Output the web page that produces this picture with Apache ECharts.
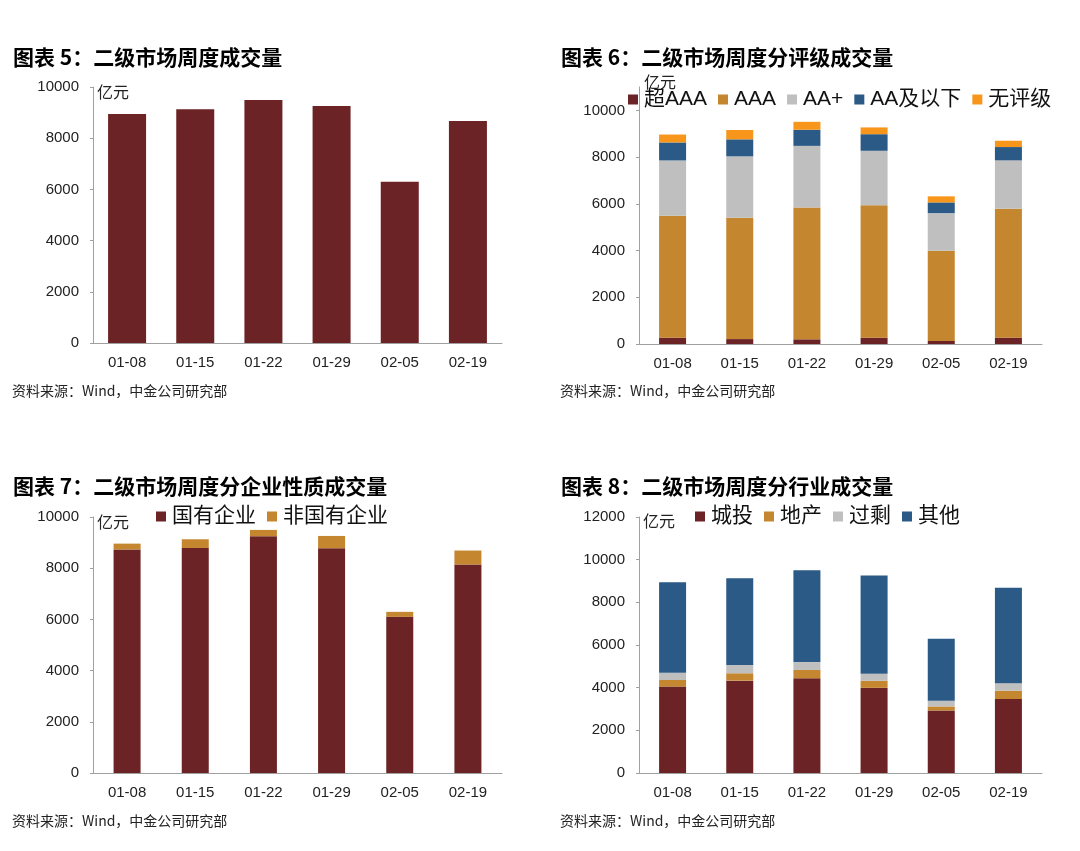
<!DOCTYPE html>
<html><head><meta charset="utf-8">
<script src="https://cdn.jsdelivr.net/npm/echarts@6/dist/echarts.min.js"></script>
<style>html,body{margin:0;padding:0;background:#fff}#c{width:1080px;height:851px}</style>
</head><body><div id="c"></div>
<script>
// ---- data ----
const categories = ['01-08','01-15','01-22','01-29','02-05','02-19'];
// 图表5 总成交量
const totalVolume = [8950, 9130, 9490, 9260, 6295, 8675];
// 图表6 分评级
const superAAA = [270, 210, 200, 270, 130, 270];
const ratingAAA = [5216, 5190, 5640, 5670, 3860, 5520];
const ratingAAplus = [2370, 2630, 2640, 2330, 1610, 2070];
const ratingAAbelow = [770, 730, 690, 710, 460, 570];
const noRating = [340, 400, 340, 290, 260, 270];
// 图表7 分企业性质
const soe = [8730, 8790, 9250, 8780, 6100, 8145];
const nonSoe = [230, 340, 245, 480, 195, 545];
// 图表8 分行业
const chengtou = [4050, 4330, 4440, 3990, 2930, 3470];
const dichan = [310, 345, 390, 330, 190, 390];
const guosheng = [340, 390, 370, 330, 270, 350];
const qita = [4240, 4065, 4300, 4610, 2900, 4470];

const C = {maroon:'#6B2325', aaa:'#C4862F', grey:'#BFBFBF', blue:'#2A5A85', orange:'#F7961A'};
const AX = '#A0A0A0';
const CJK = '"Noto Sans CJK SC", sans-serif';
const MIX = '"Liberation Sans", "Noto Sans CJK SC", sans-serif';
const NUM = '"Liberation Sans", Arial, sans-serif';

const chart = echarts.init(document.getElementById('c'), null, {renderer:'canvas'});

function xAx(g){return {type:'category', gridIndex:g, data:categories,
  axisLine:{lineStyle:{color:AX}}, axisTick:{inside:true,length:4,lineStyle:{color:AX}},
  axisLabel:{color:'#222', fontSize:15, fontFamily:NUM, margin:12}};}
function yAx(g,max){return {type:'value', gridIndex:g, min:0, max:max, interval:2000,
  axisLine:{show:true,lineStyle:{color:AX}}, axisTick:{show:true,length:3,lineStyle:{color:AX}},
  splitLine:{show:false},
  axisLabel:{color:'#222', fontSize:15, fontFamily:NUM, margin:14, showMaxLabel: max%2000===0,
    formatter:v=> v>10000 && max===11000 ? '' : String(v)}};}

function bar(name,data,g,color,w,stack){return {name:name,type:'bar',xAxisIndex:g,yAxisIndex:g,
  data:data,stack:stack,barWidth:w,itemStyle:{color:color},emphasis:{disabled:true}};}

const titleStyle = {fontSize:21, fontWeight:'bold', fontFamily:CJK, color:'#000'};
const srcStyle = {fontSize:14, fontWeight:'normal', fontFamily:CJK, color:'#222'};
const legendBase = {icon:'rect', itemWidth:10, itemHeight:10, itemGap:11, selectedMode:false,
  textStyle:{fontSize:21, fontFamily:MIX, color:'#111', padding:[0,0,0,1]}};

const option = {
  animation:false,
  title:[
    {text:'图表 5：二级市场周度成交量', left:8, top:42, textStyle:titleStyle},
    {text:'图表 6：二级市场周度分评级成交量', left:556, top:42, textStyle:titleStyle},
    {text:'图表 7：二级市场周度分企业性质成交量', left:8, top:471, textStyle:titleStyle},
    {text:'图表 8：二级市场周度分行业成交量', left:556, top:471, textStyle:titleStyle},
    {text:'资料来源：Wind，中金公司研究部', left:7, top:379, textStyle:srcStyle},
    {text:'资料来源：Wind，中金公司研究部', left:555, top:379, textStyle:srcStyle},
    {text:'资料来源：Wind，中金公司研究部', left:7, top:809, textStyle:srcStyle},
    {text:'资料来源：Wind，中金公司研究部', left:555, top:809, textStyle:srcStyle}
  ],
  legend:[
    Object.assign({}, legendBase, {left:623, top:84, data:['超AAA','AAA','AA+','AA及以下','无评级']}),
    Object.assign({}, legendBase, {left:151, top:501, data:['国有企业','非国有企业']}),
    Object.assign({}, legendBase, {left:690, top:501, data:['城投','地产','过剩','其他']})
  ],
  grid:[
    {left:93, top:87, width:409, height:256},
    {left:639, top:87, width:403, height:257},
    {left:93, top:517, width:409, height:256},
    {left:639, top:517, width:403, height:256}
  ],
  xAxis:[xAx(0),xAx(1),xAx(2),xAx(3)],
  yAxis:[yAx(0,10000),yAx(1,11000),yAx(2,10000),yAx(3,12000)],
  graphic:[
    {type:'text', left:97, top:84, style:{text:'亿元', font:'16px '+CJK, fill:'#222'}},
    {type:'text', left:644, top:74, style:{text:'亿元', font:'16px '+CJK, fill:'#222'}},
    {type:'text', left:97, top:514, style:{text:'亿元', font:'16px '+CJK, fill:'#222'}},
    {type:'text', left:643, top:513, style:{text:'亿元', font:'16px '+CJK, fill:'#222'}}
  ],
  series:[
    bar('成交量', totalVolume, 0, C.maroon, 38),
    bar('超AAA', superAAA, 1, C.maroon, 27, 'r'),
    bar('AAA', ratingAAA, 1, C.aaa, 27, 'r'),
    bar('AA+', ratingAAplus, 1, C.grey, 27, 'r'),
    bar('AA及以下', ratingAAbelow, 1, C.blue, 27, 'r'),
    bar('无评级', noRating, 1, C.orange, 27, 'r'),
    bar('国有企业', soe, 2, C.maroon, 27, 'o'),
    bar('非国有企业', nonSoe, 2, C.aaa, 27, 'o'),
    bar('城投', chengtou, 3, C.maroon, 27, 'i'),
    bar('地产', dichan, 3, C.aaa, 27, 'i'),
    bar('过剩', guosheng, 3, C.grey, 27, 'i'),
    bar('其他', qita, 3, C.blue, 27, 'i')
  ]
};
chart.setOption(option);
</script></body></html>
